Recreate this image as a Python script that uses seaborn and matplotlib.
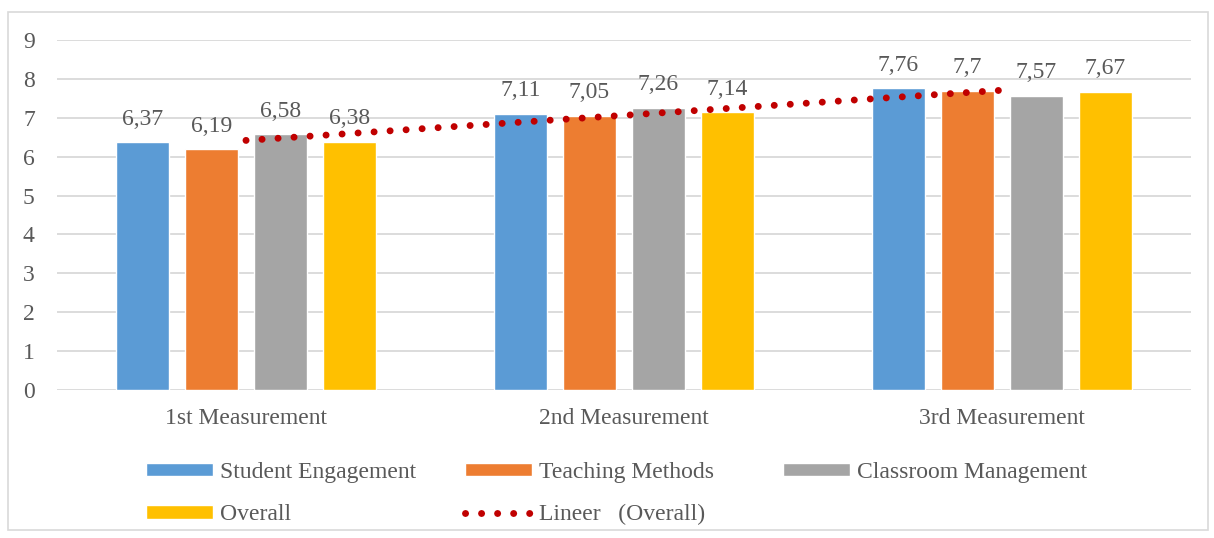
import numpy as np
import pandas as pd
import matplotlib
matplotlib.use("Agg")
import matplotlib.pyplot as plt
import seaborn as sns
from matplotlib.patches import Rectangle, Patch
from matplotlib.lines import Line2D

categories = ["1st Measurement", "2nd Measurement", "3rd Measurement"]
series_names = ["Student Engagement", "Teaching Methods", "Classroom Management", "Overall"]
student_engagement = [6.37, 7.11, 7.76]
teaching_methods = [6.19, 7.05, 7.70]
classroom_management = [6.58, 7.26, 7.57]
overall = [6.38, 7.14, 7.67]
yticks = list(range(0, 10))

colors = ["#5B9BD5", "#ED7D31", "#A5A5A5", "#FFC000"]
trend_color = "#C00000"
text_color = "#595959"

sns.set_theme(style="white")
plt.rcParams["font.family"] = ["Liberation Serif", "DejaVu Serif"]

values = [student_engagement, teaching_methods, classroom_management, overall]
rows = []
for name, vals in zip(series_names, values):
    for c, v in zip(categories, vals):
        rows.append({"Measurement": c, "Series": name, "Value": v})
df = pd.DataFrame(rows)

W, H = 1214, 538
fig = plt.figure(figsize=(W / 100, H / 100), dpi=100)
ax = fig.add_axes([57 / W, 1 - 390 / H, (1191 - 57) / W, (390 - 40) / H])

sns.barplot(data=df, x="Measurement", y="Value", hue="Series",
            order=categories, hue_order=series_names, palette=colors,
            width=0.73, gap=0.22, ax=ax, legend=False, saturation=1,
            errorbar=None)

fs = 17
for cont, vals in zip(ax.containers, values):
    labels = [("%g" % v).replace(".", ",") for v in vals]
    ax.bar_label(cont, labels=labels, padding=9, fontsize=fs, color=text_color)

# linear trendline for Overall
xs = np.arange(len(categories))
coef = np.polyfit(xs, overall, 1)
trend = np.polyval(coef, xs)
lw_tr = 5
ax.plot(xs, trend, color=trend_color, linewidth=lw_tr,
        linestyle=(0, (0.01, 2.3)), dash_capstyle="round", solid_capstyle="round")

ax.set_ylim(0, 9)
ax.set_xlim(-0.5, len(categories) - 0.5)
ax.set_yticks(yticks)
ax.set_yticklabels([str(t) for t in yticks])
ax.yaxis.grid(True, color="#D9D9D9", linewidth=1.3)
ax.xaxis.grid(False)
ax.set_axisbelow(True)
for s in ax.spines.values():
    s.set_visible(False)
ax.tick_params(axis="y", length=0, pad=16, labelsize=fs, labelcolor=text_color)
ax.tick_params(axis="x", length=0, pad=13, labelsize=fs, labelcolor=text_color)
ax.set_xlabel("")
ax.set_ylabel("")

# chart border
fig.patches.append(Rectangle((8 / W, 8 / H), (1208 - 8) / W, (530 - 12) / H,
                             transform=fig.transFigure, fill=False,
                             edgecolor="#D9D9D9", linewidth=1.2))

# legend (three columns placed like the original)
h_se = Patch(facecolor=colors[0])
h_tm = Patch(facecolor=colors[1])
h_cm = Patch(facecolor=colors[2])
h_ov = Patch(facecolor=colors[3])
h_tr = Line2D([0], [0], color=trend_color, linewidth=lw_tr,
              linestyle=(0, (0.01, 2.3)), dash_capstyle="round")
common = dict(loc="upper left", frameon=False, fontsize=fs, handlelength=2.85,
              handleheight=0.5, handletextpad=0.3, labelspacing=0.9,
              borderaxespad=0, borderpad=0, labelcolor=text_color)
col_x = [146, 465, 783]
top_y = 462
fig.legend([h_se, h_ov], ["Student Engagement", "Overall"],
           bbox_to_anchor=(col_x[0] / W, 1 - top_y / H), **common)
fig.legend([h_tm, h_tr], ["Teaching Methods", "Lineer   (Overall)"],
           bbox_to_anchor=(col_x[1] / W, 1 - top_y / H), **common)
fig.legend([h_cm], ["Classroom Management"],
           bbox_to_anchor=(col_x[2] / W, 1 - top_y / H), **common)

fig.savefig("out.png", dpi=100)
